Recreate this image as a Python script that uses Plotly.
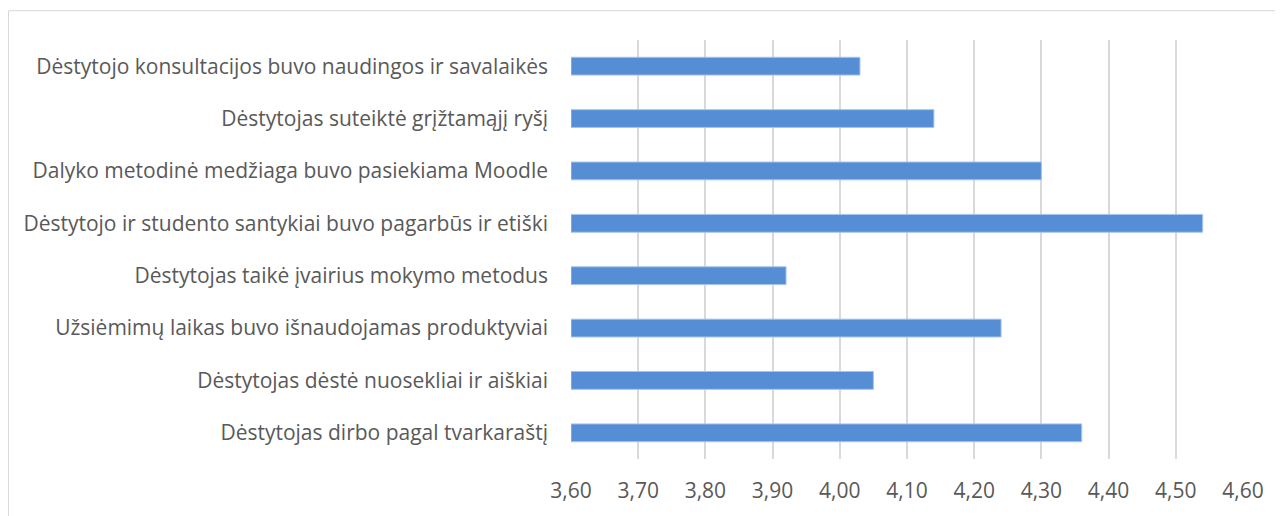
import plotly.graph_objects as go

categories = [
    "Dėstytojo konsultacijos buvo naudingos ir savalaikės",
    "Dėstytojas suteiktė grįžtamąjį ryšį",
    "Dalyko metodinė medžiaga buvo pasiekiama Moodle",
    "Dėstytojo ir studento santykiai buvo pagarbūs ir etiški",
    "Dėstytojas taikė įvairius mokymo metodus",
    "Užsiėmimų laikas buvo išnaudojamas produktyviai",
    "Dėstytojas dėstė nuosekliai ir aiškiai",
    "Dėstytojas dirbo pagal tvarkaraštį",
]
values = [4.03, 4.14, 4.30, 4.54, 3.92, 4.24, 4.05, 4.36]
tick_values = [3.6, 3.7, 3.8, 3.9, 4.0, 4.1, 4.2, 4.3, 4.4, 4.5, 4.6]
axis_min = 3.6

# page body has an 8px margin; figure occupies page x 8..1283, y 8..516
W, H = 1275, 508
L, T = 563, 32
pw, ph = 672, 422
R = W - L - pw
B = H - T - ph

fig = go.Figure()
fig.add_trace(go.Bar(
    y=categories,
    x=[v - axis_min for v in values],
    base=axis_min,
    orientation="h",
    marker=dict(color="#558ED5", line=dict(color="#a8c3ea", width=1)),
    width=0.34,
    customdata=values,
    hovertemplate="%{y}: %{customdata:.2f}<extra></extra>",
))

def fx(px):
    return (px - L) / pw

def fy(py):
    return (H - B - py) / ph

fig.add_shape(
    type="rect", xref="paper", yref="paper",
    x0=fx(0.5), x1=fx(W + 5),
    y0=fy(H + 5), y1=fy(2.5),
    line=dict(color="#d9d9d9", width=1), fillcolor="rgba(0,0,0,0)", layer="below",
)

fig.update_layout(
    width=W, height=H,
    margin=dict(l=L, r=R, t=T, b=B, pad=0),
    paper_bgcolor="white", plot_bgcolor="white",
    separators=",.",
    showlegend=False,
    font=dict(family="Open Sans", size=21, color="#595959"),
    xaxis=dict(
        range=[3.6, 4.6],
        tickvals=tick_values,
        tickformat=".2f",
        showgrid=True, gridcolor="#d9d9d9", gridwidth=2,
        zeroline=False, showline=False, ticks="",
        ticklabelstandoff=17,
        tickfont=dict(family="Open Sans", size=21, color="#595959"),
        fixedrange=True,
    ),
    yaxis=dict(
        autorange="reversed",
        showgrid=False, zeroline=False, showline=False, ticks="",
        ticklabelstandoff=22,
        tickfont=dict(family="Open Sans", size=21, color="#595959"),
        fixedrange=True,
    ),
)

fig.write_html("out.html")
